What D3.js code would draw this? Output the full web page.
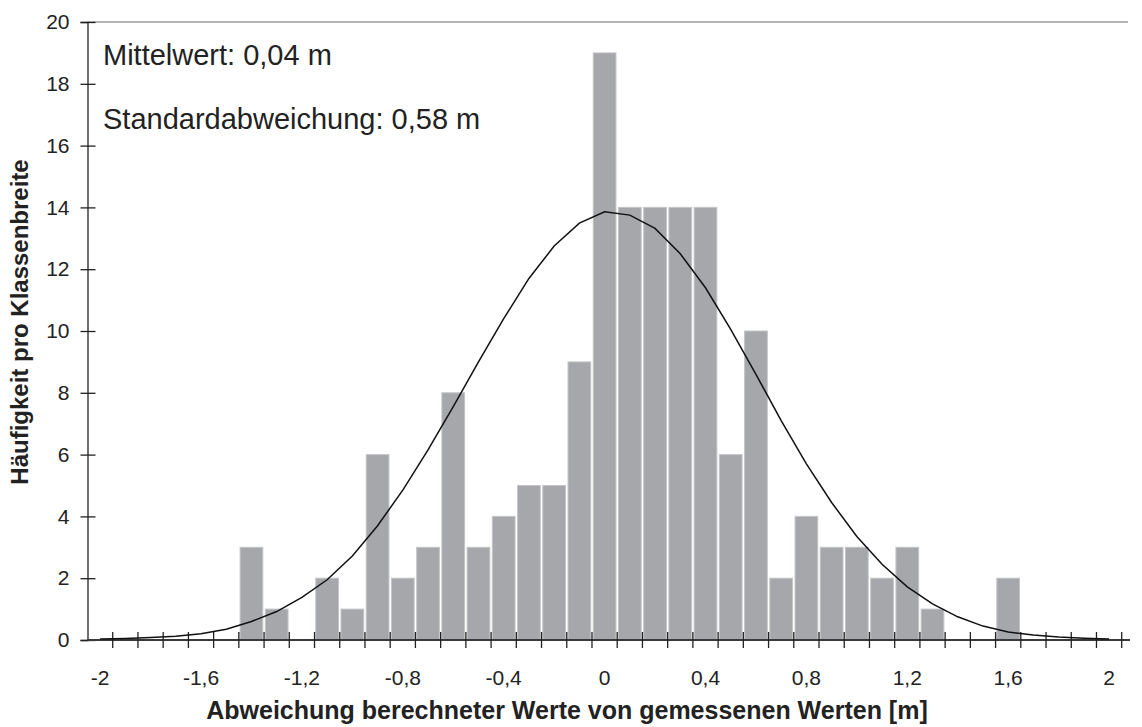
<!DOCTYPE html>
<html>
<head>
<meta charset="utf-8">
<script src="https://cdn.jsdelivr.net/npm/d3@7/dist/d3.min.js"></script>
<style>
  html, body { margin: 0; padding: 0; background: #fff; }
  svg { display: block; font-family: "Liberation Sans", Arial, Helvetica, sans-serif; }
</style>
</head>
<body>
<svg id="chart" width="1142" height="727"></svg>
<script>
// Klassenmitten der Abweichung [m]
const classes = [-2.0,-1.9,-1.8,-1.7,-1.6,-1.5,-1.4,-1.3,-1.2,-1.1,-1.0,-0.9,-0.8,-0.7,-0.6,-0.5,-0.4,-0.3,-0.2,-0.1,
                 0.0,0.1,0.2,0.3,0.4,0.5,0.6,0.7,0.8,0.9,1.0,1.1,1.2,1.3,1.4,1.5,1.6,1.7,1.8,1.9,2.0];
// Häufigkeit je Klasse
const counts = [0,0,0,0,0,0,3,1,0,2,1,6,2,3,8,3,4,5,5,9,
                19,14,14,14,14,6,10,2,4,3,3,2,3,1,0,0,2,0,0,0,0];
// Normalverteilungskurve je Klasse
const normalCurve = [0.03,0.05,0.08,0.12,0.2,0.35,0.6,0.92,1.38,1.95,2.72,3.7,4.85,6.15,7.55,9.0,10.4,11.7,12.75,13.49,
                     13.86,13.75,13.32,12.5,11.4,10.05,8.6,7.1,5.7,4.45,3.35,2.45,1.72,1.17,0.75,0.45,0.26,0.16,0.1,0.06,0.03];
const xTickLabels = ["-2","-1,6","-1,2","-0,8","-0,4","0","0,4","0,8","1,2","1,6","2"];
const yTicks = [0,2,4,6,8,10,12,14,16,18,20];
const statLines = ["Mittelwert: 0,04 m", "Standardabweichung: 0,58 m"];
const xTitle = "Abweichung berechneter Werte von gemessenen Werten [m]";
const yTitle = "Häufigkeit pro Klassenbreite";

const svg = d3.select("#chart");
const plotLeft = 87.5, plotRight = 1121.7, plotTop = 22, plotBottom = 640;

const keys = classes.map(String);
const x = d3.scaleBand().domain(keys).range([plotLeft, plotRight]).paddingInner(0.1).paddingOuter(0.05);
const xEdge = d3.scaleLinear().domain([0, classes.length]).range([plotLeft, plotRight]);
const y = d3.scaleLinear().domain([0, 20]).range([plotBottom, plotTop]);

// top border of plot area
svg.append("line")
  .attr("x1", plotLeft).attr("x2", 1128).attr("y1", y(20)).attr("y2", y(20))
  .attr("stroke", "#9c9c9c").attr("stroke-width", 1.6);

// bars
svg.append("g").selectAll("rect")
  .data(counts.map((c, i) => ({ k: keys[i], c })).filter(d => d.c > 0))
  .join("rect")
  .attr("x", d => x(d.k))
  .attr("y", d => y(d.c))
  .attr("width", x.bandwidth())
  .attr("height", d => y(0) - y(d.c))
  .attr("fill", "#a6a7ab")
  .attr("stroke", "#c3c4c6")
  .attr("stroke-width", 1);

// y axis
const yAxis = d3.axisLeft(y).tickValues(yTicks).tickSize(7).tickPadding(11).tickFormat(d3.format("d"));
const gy = svg.append("g").attr("transform", `translate(${plotLeft},0)`).call(yAxis);
gy.select(".domain").attr("stroke", "#222").attr("stroke-width", 1.3);
gy.selectAll(".tick line").attr("stroke", "#222").attr("stroke-width", 1.3).attr("x2", 8).attr("x1", -7);
gy.selectAll(".tick text").attr("font-size", 21).attr("fill", "#222")
  .attr("font-family", "'Liberation Sans', Arial, sans-serif");

// x axis: boundary ticks and labels every 0.4
const gx = svg.append("g").attr("transform", `translate(0,${plotBottom})`);
gx.append("line").attr("x1", plotLeft).attr("x2", 1130).attr("y1", 0).attr("y2", 0)
  .attr("stroke", "#3a3a3a").attr("stroke-width", 2.2);
gx.selectAll(".edge")
  .data(d3.range(1, classes.length + 1))
  .join("line").attr("class", "edge")
  .attr("x1", d => xEdge(d)).attr("x2", d => xEdge(d))
  .attr("y1", -8).attr("y2", 8)
  .attr("stroke", "#222").attr("stroke-width", 1.3);
const labelKeys = keys.filter((k, i) => i % 4 === 0);
gx.selectAll(".lbl")
  .data(labelKeys)
  .join("text").attr("class", "lbl")
  .attr("x", d => x(d) + x.bandwidth() / 2)
  .attr("y", 45)
  .attr("text-anchor", "middle")
  .attr("font-size", 21).attr("fill", "#222")
  .text((d, i) => xTickLabels[i]);

// normal curve
const line = d3.line().x((d, i) => x(keys[i]) + x.bandwidth() / 2).y(d => y(d));
svg.append("path").datum(normalCurve).attr("d", line)
  .attr("fill", "none").attr("stroke", "#111").attr("stroke-width", 1.5);

// statistics
svg.selectAll(".stat").data(statLines).join("text").attr("class", "stat")
  .attr("x", 103).attr("y", (d, i) => 65 + i * 63.5)
  .attr("font-size", 29).attr("fill", "#222")
  .text(d => d);

// axis titles
svg.append("text").attr("x", 567).attr("y", 719).attr("text-anchor", "middle")
  .attr("font-size", 25).attr("font-weight", "bold").attr("fill", "#222").text(xTitle);
svg.append("text").attr("transform", "translate(28,322) rotate(-90)").attr("text-anchor", "middle")
  .attr("font-size", 24).attr("font-weight", "bold").attr("fill", "#222").text(yTitle);
</script>
</body>
</html>
